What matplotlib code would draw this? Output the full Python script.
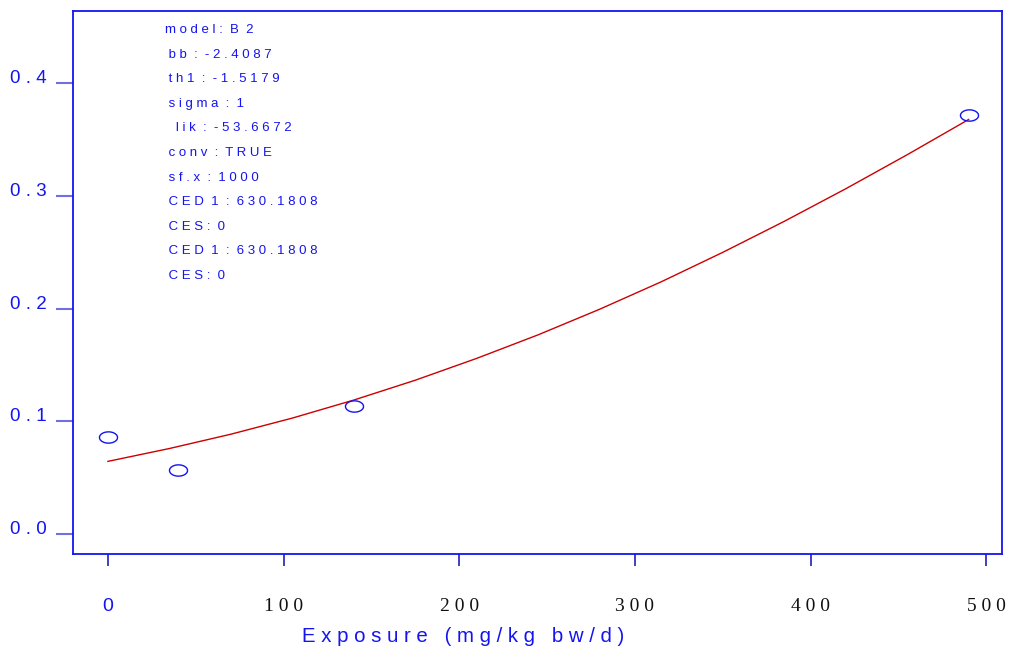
import numpy as np
import matplotlib.pyplot as plt

# observed responses
dose = [0, 40, 140, 490]
response = [0.086, 0.057, 0.114, 0.372]

# fitted curve values
curve_x = [0, 35, 70, 105, 140, 175, 210, 245, 280, 315, 350, 385, 420, 455, 490]
curve_y = [0.0645, 0.0759, 0.0886, 0.1029, 0.1189, 0.1365, 0.1559, 0.1768,
           0.1995, 0.2238, 0.2499, 0.2774, 0.3063, 0.3365, 0.3678]

yticks = [0.0, 0.1, 0.2, 0.3, 0.4]
ytick_labels = ["0 . 0", "0 . 1", "0 . 2", "0 . 3", "0 . 4"]
xticks = [0, 100, 200, 300, 400, 500]
xtick_labels = ["0", "1 0 0", "2 0 0", "3 0 0", "4 0 0", "5 0 0"]

info_lines = ["model: B 2", " bb : -2.4087", " th1 : -1.5179", " sigma : 1",
              "   lik : -53.6672", " conv : TRUE", " sf.x : 1000",
              " CED 1 : 630.1808", " CES: 0", " CED 1 : 630.1808", " CES: 0"]


def spaced(s):
    # wide letter spacing as in the original device output
    indent = len(s) - len(s.lstrip())
    body = " ".join(s.strip()).replace("   ", "  ")
    return " " * indent + body


blue = "#1414f0"
sans = "Liberation Sans"
serif = "Liberation Serif"

fig = plt.figure(figsize=(10.12, 6.5), dpi=100)
ax = fig.add_axes([0.0721, 0.148, 0.918, 0.835])

# ellipse-shaped open marker
t = np.linspace(0, 2 * np.pi, 60)
ellipse = np.column_stack([1.6 * np.cos(t), np.sin(t)])

ax.plot(curve_x, curve_y, color="#cc0000", linewidth=1)
ax.plot(dose, response, linestyle="none", marker=ellipse, markersize=13,
        markerfacecolor="none", markeredgecolor=blue, markeredgewidth=1)

ax.set_xlim(-19.9, 509)
ax.set_ylim(-0.0175, 0.464)

for s in ax.spines.values():
    s.set_color(blue)
    s.set_linewidth(1.3)

ax.set_yticks(yticks)
ax.set_yticklabels(ytick_labels)
ax.tick_params(axis="y", direction="out", length=12.5, width=1.5,
               color="#7070e0", pad=6.5, labelsize=13.5, labelcolor=blue)
for lab in ax.get_yticklabels():
    lab.set_family(sans)
    lab.set_verticalalignment("baseline")

ax.set_xticks(xticks)
ax.set_xticklabels(xtick_labels)
ax.tick_params(axis="x", direction="out", length=8.5, width=1.3,
               color="#3030c0", pad=23, labelsize=14)
for i, lab in enumerate(ax.get_xticklabels()):
    if i == 0:
        lab.set_family(sans)
        lab.set_color(blue)
        lab.set_fontsize(14)
    else:
        lab.set_family(serif)
        lab.set_color("#111111")

fig.text(463 / 1012, 1 - 637 / 650, "E x p o s u r e   ( m g / k g   b w / d )",
         ha="center", va="center", color=blue, fontsize=14.7, family=sans)

for i, line in enumerate(info_lines):
    fig.text(165 / 1012, 1 - (30 + 24.6 * i) / 650, spaced(line), ha="left", va="center",
             color=blue, fontsize=9.5, family=sans)

fig.savefig("out.png", dpi=100)
